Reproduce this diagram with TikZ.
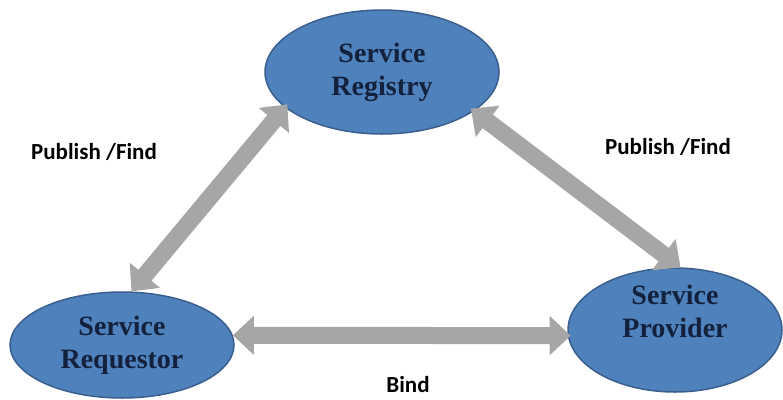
\documentclass[tikz,border=0pt]{standalone}
\usepackage{fontspec}
\setmainfont{Liberation Serif}
\newfontfamily\labelfont{Carlito}
\usetikzlibrary{shapes.geometric,arrows.meta}

\definecolor{nodeblue}{HTML}{4F81BD}
\definecolor{nodeedge}{HTML}{3A5F8E}
\definecolor{nodetext}{HTML}{14213D}
\definecolor{arrowgray}{HTML}{A6A6A6}

\tikzset{
  service/.style={ellipse,fill=nodeblue,draw=nodeedge,line width=1.5pt,inner sep=0pt,
    text=nodetext,align=center,font=\fontsize{28}{33}\selectfont\bfseries},
  bigarrow/.style={draw=arrowgray,line width=17pt,
    {Triangle[width=38pt,length=21pt]}-{Triangle[width=38pt,length=21pt]}},
  tag/.style={font=\labelfont\bfseries\fontsize{23}{27}\selectfont,text=black}
}

\begin{document}
\begin{tikzpicture}[x=1pt,y=-1pt]
\useasboundingbox (0,0) rectangle (783,399);
% the three parties
\node[service,minimum width=234pt,minimum height=124pt] (reg) at (382,72) {Service\\Registry};
\node[service,minimum width=224pt,minimum height=106pt] (req) at (122,345) {Service\\Requestor};
\node[service,minimum width=214pt,minimum height=124pt,
  label={[service,fill=none,draw=none,yshift=19pt]center:Service\\Provider}] (prov) at (675,330) {};
% connections
\draw[bigarrow,shorten >=-4pt] (req.80) -- (reg.200);
\draw[bigarrow,shorten <=-4pt] (reg.337) -- (prov.85);
\draw[bigarrow,shorten >=-3pt] (req.5) -- (prov.183);
% labels
\node[tag] (pfleft) at (94,152) {Publish /Find};
\node[tag] (pfright) at (668,147) {Publish /Find};
\node[tag] (bind) at (408,385) {Bind};
\end{tikzpicture}
\end{document}
